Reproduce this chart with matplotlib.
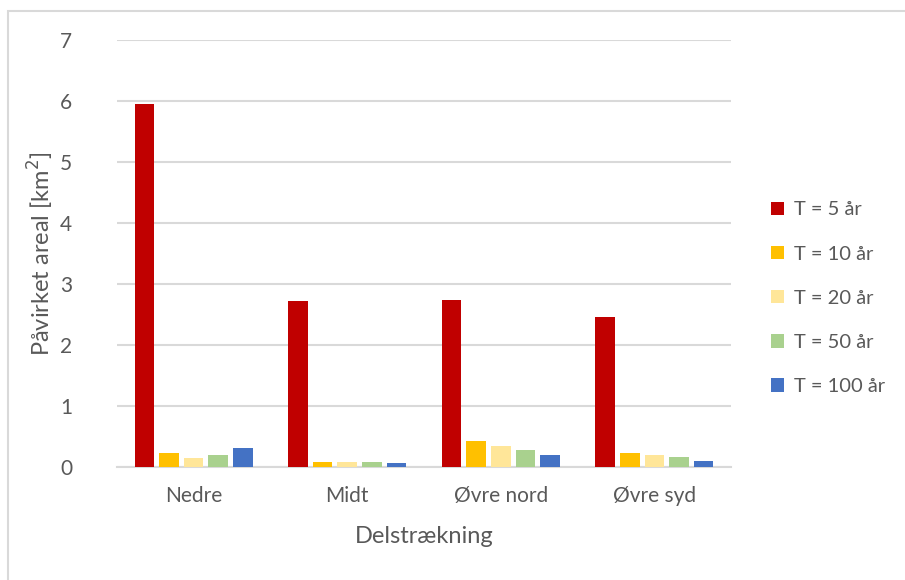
import numpy as np
import matplotlib
matplotlib.use("Agg")
import matplotlib.pyplot as plt
from matplotlib.patches import Rectangle

plt.rcParams['font.family'] = ['Lato', 'DejaVu Sans']

# Påvirket areal per delstrækning og gjentaksintervall
strekninger = ["Nedre", "Midt", "Øvre nord", "Øvre syd"]
serie_navn = ["T = 5 år", "T = 10 år", "T = 20 år", "T = 50 år", "T = 100 år"]
t5 = [5.95, 2.72, 2.74, 2.45]
t10 = [0.22, 0.08, 0.42, 0.23]
t20 = [0.14, 0.08, 0.35, 0.20]
t50 = [0.20, 0.08, 0.27, 0.16]
t100 = [0.31, 0.06, 0.19, 0.10]
farger = ["#C00000", "#FFC000", "#FFE699", "#A9D18E", "#4472C4"]

TEKST = "#595959"
GRID = "#D9D9D9"

fig = plt.figure(figsize=(9.05, 5.8), dpi=100)
ax = fig.add_axes([0.129, 0.195, 0.679, 0.736])

# ramme rundt diagramområdet
fig.patches.append(Rectangle((8 / 905, -0.02), 1.0, 1 - 11 / 580 + 0.02,
                             transform=fig.transFigure, fill=False,
                             edgecolor="#D9D9D9", linewidth=1.5))

x = np.arange(len(strekninger))
bredde = 0.128
steg = 0.16
for i, (navn, verdier) in enumerate(zip(serie_navn, [t5, t10, t20, t50, t100])):
    ax.bar(x + (i - 2) * steg, verdier, bredde, color=farger[i], label=navn, zorder=3)

ax.set_xlim(-0.5, len(strekninger) - 0.5)
ax.set_ylim(0, 7)
ax.set_yticks(range(0, 8))
ax.set_xticks(x)
ax.set_xticklabels(strekninger)
ax.yaxis.grid(True, color=GRID, linewidth=1.5, zorder=0)
for s in ["top", "right", "left"]:
    ax.spines[s].set_visible(False)
ax.spines["bottom"].set_color(GRID)
ax.spines["bottom"].set_linewidth(1.5)
ax.tick_params(axis="both", length=0, labelsize=15, colors=TEKST, pad=14)
ax.tick_params(axis="y", pad=32)

ax.set_ylabel("Påvirket areal [km$^2$]", fontsize=17, color=TEKST, labelpad=3)
ax.set_xlabel("Delstrækning", fontsize=17, color=TEKST, labelpad=14)

leg = ax.legend(loc="center left", bbox_to_anchor=(1.035, 0.395), frameon=False,
                fontsize=14.5, labelcolor=TEKST, handlelength=0.65, handleheight=0.65,
                handletextpad=0.5, labelspacing=1.35)

fig.savefig("out.png", dpi=100)
